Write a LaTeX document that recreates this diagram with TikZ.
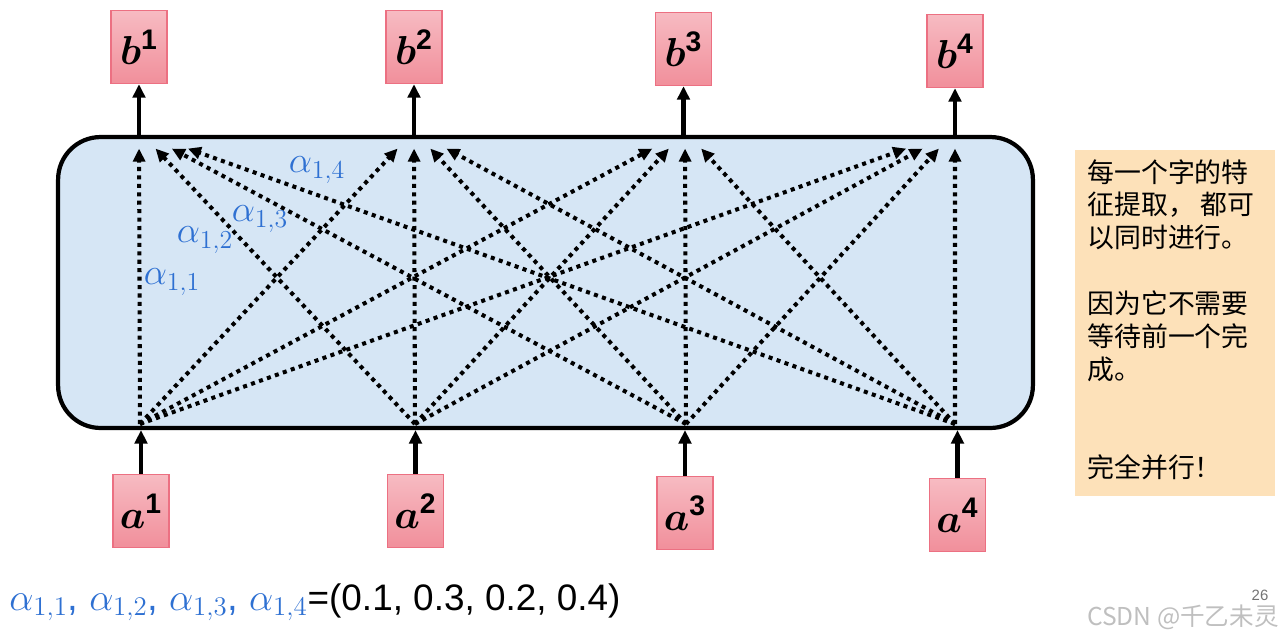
\RequirePackage{fix-cm}
\documentclass[tikz,border=0pt]{standalone}
\usepackage{amsmath}
\usepackage{amssymb}
\usepackage{bm}
\usepackage{fontspec}
\setmainfont{Liberation Sans}
\newfontfamily\cjk{Noto Sans CJK SC}
\usepackage{tikz}
\usetikzlibrary{positioning, arrows.meta, calc}
\definecolor{alphablue}{RGB}{46,112,210}
\definecolor{boxtop}{RGB}{247,187,194}
\definecolor{boxbottom}{RGB}{241,143,155}
\definecolor{boxline}{RGB}{236,112,130}
\definecolor{attnfill}{RGB}{214,230,245}
\definecolor{notefill}{RGB}{253,225,185}
\tikzset{
  vecbox/.style={rectangle, draw=boxline, line width=0.8pt, top color=boxtop, bottom color=boxbottom, minimum width=1.12cm, minimum height=1.46cm, inner sep=0pt, font=\fontsize{23}{26}\selectfont},
  attnbox/.style={rectangle, rounded corners=0.85cm, draw=black, line width=2.4pt, fill=attnfill, minimum width=19.5cm, minimum height=5.82cm},
  arrow/.style={line width=2.4pt, -{Triangle[length=0.27cm, width=0.25cm]}},
  dotarrow/.style={line width=2.3pt, dash pattern=on 2.3pt off 2.5pt, -{Triangle[length=0.26cm, width=0.24cm]}},
  weight/.style={text=alphablue, font=\fontsize{21}{25}\selectfont, inner sep=0pt}
}

\begin{document}
\begin{tikzpicture}[x=0.02cm, y=-0.02cm]
        \useasboundingbox (0,0) rectangle (1285,637);

        \node (attn) [attnbox] at (545.5,282.5) {};

        \node (b1) [vecbox] at (139,47) {$\bm{b}^{\mathbf{1}}$};
        \node (b2) [vecbox] at (414,47) {$\bm{b}^{\mathbf{2}}$};
        \node (b3) [vecbox] at (683.5,49) {$\bm{b}^{\mathbf{3}}$};
        \node (b4) [vecbox] at (955,51) {$\bm{b}^{\mathbf{4}}$};
        \node (a1) [vecbox] at (141,511) {$\bm{a}^{\mathbf{1}}$};
        \node (a2) [vecbox] at (415.5,511) {$\bm{a}^{\mathbf{2}}$};
        \node (a3) [vecbox] at (685,513) {$\bm{a}^{\mathbf{3}}$};
        \node (a4) [vecbox] at (957.5,515) {$\bm{a}^{\mathbf{4}}$};

        \draw [arrow] (a1) -- (a1 |- attn.south);
        \draw [arrow] (a2) -- (a2 |- attn.south);
        \draw [arrow] (a3) -- (a3 |- attn.south);
        \draw [arrow] (a4) -- (a4 |- attn.south);
        \draw [arrow] (b1 |- attn.north) -- (b1);
        \draw [arrow] (b2 |- attn.north) -- (b2);
        \draw [arrow] (b3 |- attn.north) -- (b3);
        \draw [arrow] (b4 |- attn.north) -- (b4);

        % inputs at the bottom edge, outputs at the top edge
        \coordinate (in1) at (140,424);
        \coordinate (in2) at (415,424);
        \coordinate (in3) at (686,424);
        \coordinate (in4) at (955,424);
        \coordinate (out1) at (139,131);
        \coordinate (out2) at (414,131);
        \coordinate (out3) at (685,131);
        \coordinate (out4) at (955,131);

        \draw [dotarrow] (in1) -- ($(in1)!0.94!(out1)$);
        \draw [dotarrow] (in2) -- ($(in2)!0.94!(out1)$);
        \draw [dotarrow] (in3) -- ($(in3)!0.94!(out1)$);
        \draw [dotarrow] (in4) -- ($(in4)!0.94!(out1)$);
        \draw [dotarrow] (in1) -- ($(in1)!0.94!(out2)$);
        \draw [dotarrow] (in2) -- ($(in2)!0.94!(out2)$);
        \draw [dotarrow] (in3) -- ($(in3)!0.94!(out2)$);
        \draw [dotarrow] (in4) -- ($(in4)!0.94!(out2)$);
        \draw [dotarrow] (in1) -- ($(in1)!0.94!(out3)$);
        \draw [dotarrow] (in2) -- ($(in2)!0.94!(out3)$);
        \draw [dotarrow] (in3) -- ($(in3)!0.94!(out3)$);
        \draw [dotarrow] (in4) -- ($(in4)!0.94!(out3)$);
        \draw [dotarrow] (in1) -- ($(in1)!0.94!(out4)$);
        \draw [dotarrow] (in2) -- ($(in2)!0.94!(out4)$);
        \draw [dotarrow] (in3) -- ($(in3)!0.94!(out4)$);
        \draw [dotarrow] (in4) -- ($(in4)!0.94!(out4)$);

        \node (w11) [weight] at (172,282) {$\alpha_{1,1}$};
        \node (w12) [weight] at (205,240) {$\alpha_{1,2}$};
        \node (w13) [weight] at (260,219) {$\alpha_{1,3}$};
        \node (w14) [weight] at (317,170) {$\alpha_{1,4}$};

        \node (note) [rectangle, fill=notefill, minimum width=4cm, minimum height=6.92cm, anchor=north west, inner sep=0pt] at (1075,150) {};
        \node (notetext) [anchor=north west, inner sep=0pt, align=left, font=\cjk\fontsize{15.3}{18.7}\selectfont] at (1087,159)
          {每一个字的特\\征提取， 都可\\以同时进行。\\[18.7pt]因为它不需要\\等待前一个完\\成。\\[37.4pt]完全并行！};

        \node (weights) [anchor=base west, inner sep=0pt, font=\fontsize{21}{25}\selectfont] at (9,610)
          {\textcolor{alphablue}{\fontsize{21.9}{25}\selectfont$\alpha_{1,1}$, $\alpha_{1,2}$, $\alpha_{1,3}$, $\alpha_{1,4}$}=(0.1, 0.3, 0.2, 0.4)};

        \node (page) [anchor=base, inner sep=0pt, text=black!55, font=\fontsize{8.5}{10}\selectfont] at (1260,600) {26};
        \node (mark) [anchor=base east, inner sep=0pt, text=black!25, font=\cjk\fontsize{14}{16}\selectfont] at (1279,625) {CSDN @千乙未灵};
    \end{tikzpicture}
\end{document}
